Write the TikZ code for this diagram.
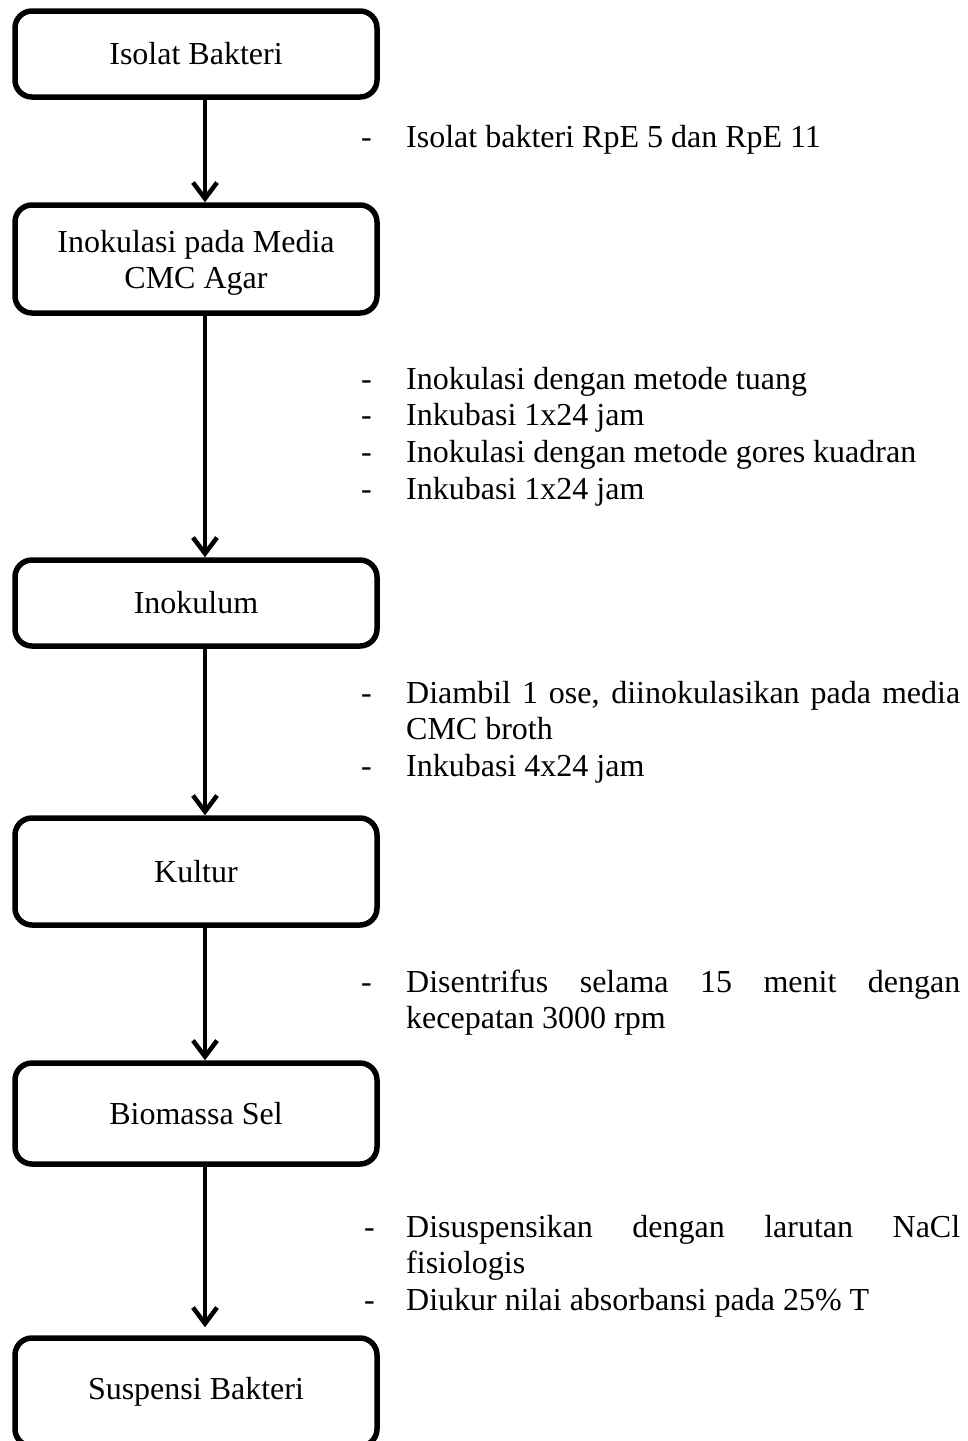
\documentclass[tikz,border=0pt]{standalone}
\usepackage{fontspec}
\setmainfont{Liberation Serif}
\usetikzlibrary{arrows.meta}
\newcommand\bigfs{\fontsize{32pt}{36.8pt}\selectfont}
\begin{document}
\begin{tikzpicture}[x=1pt,y=-1pt,
  box/.style={draw, line width=5.5pt, rounded corners=17pt, minimum width=362pt, align=center, inner sep=0pt, font=\bigfs},
  arr/.style={line width=4.5pt, -{Straight Barb[length=16pt,width=24pt]}},
  dashnode/.style={anchor=base west, inner sep=0pt, font=\bigfs},
  item/.style={anchor=base west, inner sep=0pt, font=\bigfs}]
\useasboundingbox (0,0) rectangle (968,1441);
\coordinate (ax) at (205,0);
% boxes
\node[box, minimum height=86pt]  (b1) at (196,54)    {Isolat Bakteri};
\node[box, minimum height=108pt] (b2) at (196,259)   {\rule{0pt}{30pt}Inokulasi pada Media\\CMC Agar};
\node[box, minimum height=86pt]  (b3) at (196,603)   {Inokulum};
\node[box, minimum height=107pt] (b4) at (196,871.5) {Kultur};
\node[box, minimum height=101pt] (b5) at (196,1113.5){Biomassa Sel};
\node[box, minimum height=108pt] (b6) at (196,1392)  {Suspensi Bakteri};
% arrows
\draw[arr] (b1.south -| ax) -- (b2.north -| ax);
\draw[arr] (b2.south -| ax) -- (b3.north -| ax);
\draw[arr] (b3.south -| ax) -- (b4.north -| ax);
\draw[arr] (b4.south -| ax) -- (b5.north -| ax);
\draw[arr, shorten >=8pt] (b5.south -| ax) -- (b6.north -| ax);
% list 1
\node[dashnode] (d11) at (361,147) {-};
\node[item] (t11) at (406,147) {Isolat bakteri RpE 5 dan RpE 11};
% list 2
\node[dashnode] (d21) at (361,389) {-};
\node[item] (t21) at (406,389) {Inokulasi dengan metode tuang};
\node[dashnode] (d22) at (361,425.8) {-};
\node[item] (t22) at (406,425.8) {Inkubasi 1x24 jam};
\node[dashnode] (d23) at (361,462.6) {-};
\node[item] (t23) at (406,462.6) {Inokulasi dengan metode gores kuadran};
\node[dashnode] (d24) at (361,499.4) {-};
\node[item] (t24) at (406,499.4) {Inkubasi 1x24 jam};
% list 3
\node[dashnode] (d31) at (361,703) {-};
\node[item] (t31) at (406,703) {\parbox[t]{554pt}{\bigfs Diambil 1 ose, diinokulasikan pada media\linebreak CMC broth}};
\node[dashnode] (d32) at (361,776.6) {-};
\node[item] (t32) at (406,776.6) {Inkubasi 4x24 jam};
% list 4
\node[dashnode] (d41) at (361,992) {-};
\node[item] (t41) at (406,992) {\parbox[t]{554pt}{\bigfs Disentrifus selama 15 menit dengan\linebreak kecepatan 3000 rpm}};
% list 5
\node[dashnode] (d51) at (364,1237) {-};
\node[item] (t51) at (406,1237) {\parbox[t]{554pt}{\bigfs Disuspensikan dengan larutan NaCl\linebreak fisiologis}};
\node[dashnode] (d52) at (364,1310.6) {-};
\node[item] (t52) at (406,1310.6) {Diukur nilai absorbansi pada 25\% T};
\end{tikzpicture}
\end{document}
